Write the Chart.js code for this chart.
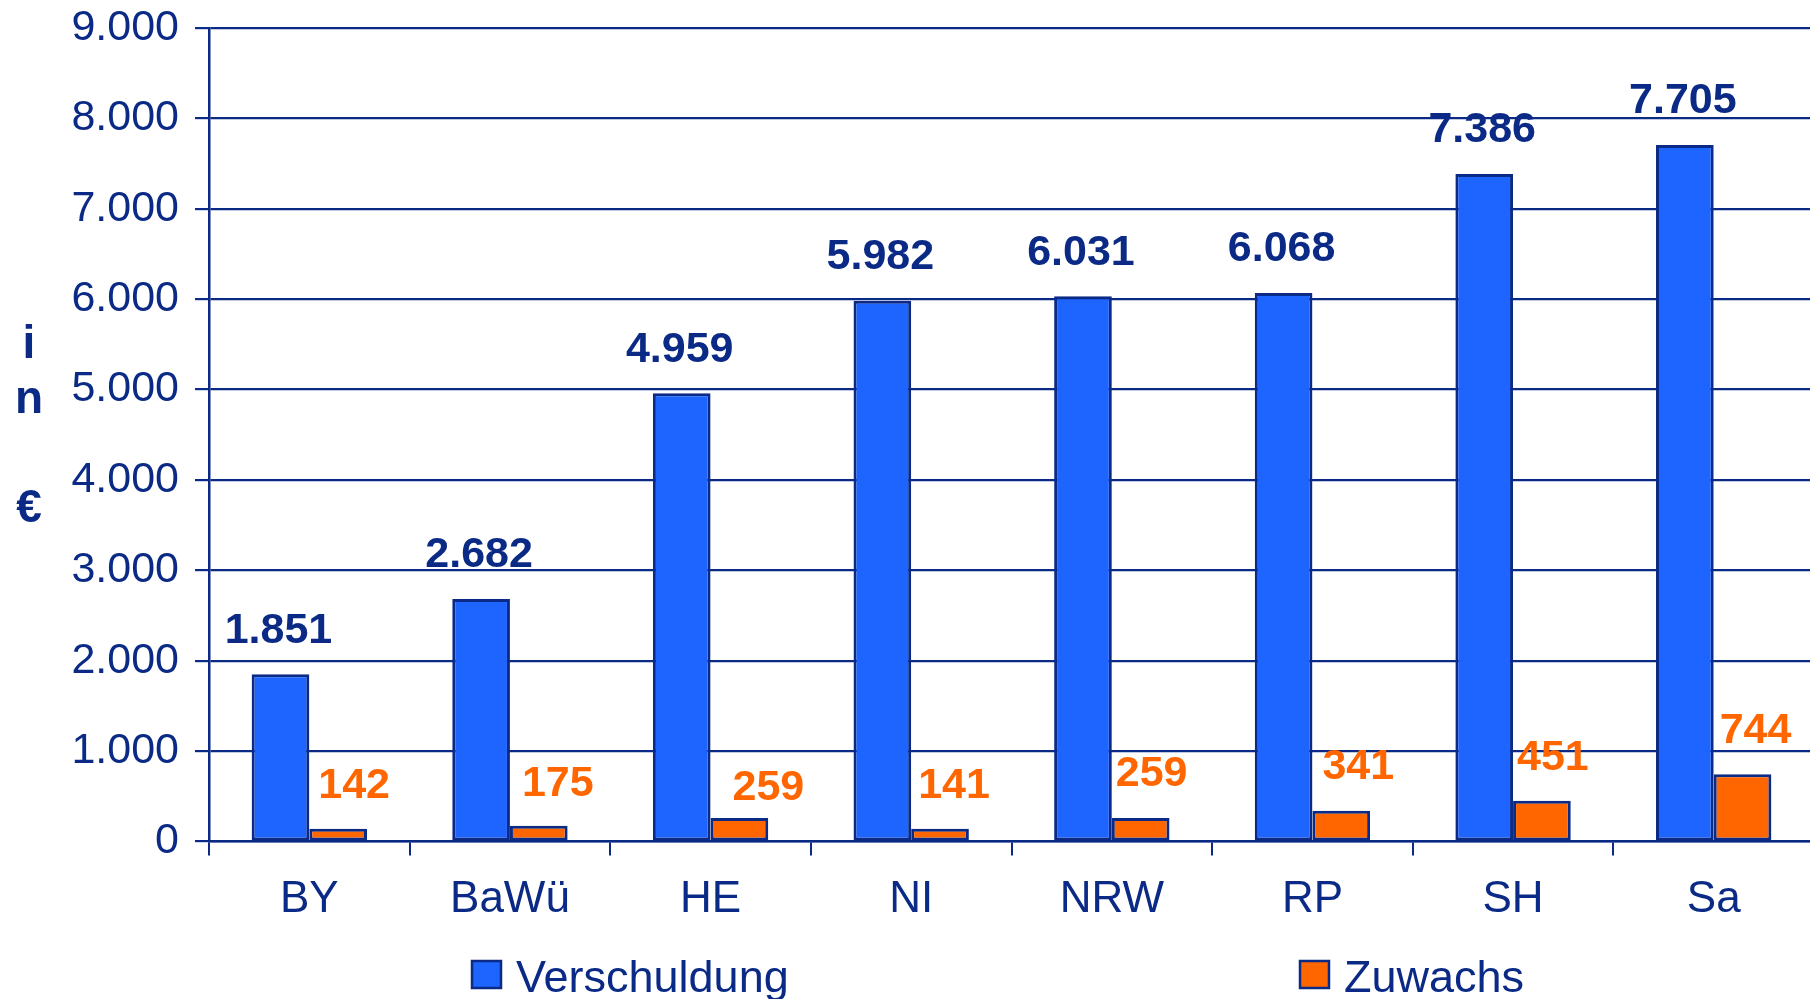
<!DOCTYPE html>
<html>
<head>
<meta charset="utf-8">
<script src="https://cdn.jsdelivr.net/npm/chart.js@4.4.1/dist/chart.umd.min.js"></script>
<style>
  html, body { margin: 0; padding: 0; background: #ffffff; overflow: hidden; }
  #wrap { width: 1810px; height: 999px; position: relative; overflow: hidden; }
  canvas { display: block; }
</style>
</head>
<body>
<div id="wrap"><canvas id="c" width="1814" height="999"></canvas></div>
<script>
// ---- data ----
const categories = ['BY', 'BaWü', 'HE', 'NI', 'NRW', 'RP', 'SH', 'Sa'];
const verschuldung = [1851, 2682, 4959, 5982, 6031, 6068, 7386, 7705];
const zuwachs = [142, 175, 259, 141, 259, 341, 451, 744];
const yTickLabels = ['0', '1.000', '2.000', '3.000', '4.000', '5.000', '6.000', '7.000', '8.000', '9.000'];
const seriesNames = ['Verschuldung', 'Zuwachs'];
const yTitleLines = ['i', 'n', '', '€'];

// ---- styles ----
const NAVY = '#0a2a86';
const BLUE = '#1e64ff';
const ORANGE = '#ff6600';
const FONT = '"Liberation Sans", Arial, Helvetica, sans-serif';

// label nudges (relative to each bar's top centre), as placed in the original
const zuwachsNudgeX = [16, 19, 29, 14, 11, 17, 11, 13];
const zuwachsNudgeY = [46, 45, 33, 46, 47, 47, 46, 47];

function fmt(v) {
  return String(v).replace(/\B(?=(\d{3})+(?!\d))/g, '.');
}

const LABEL_SIZE = 43;

const valueLabels = {
  id: 'valueLabels',
  afterDatasetsDraw(chart) {
    const ctx = chart.ctx;
    ctx.save();
    ctx.font = 'bold ' + LABEL_SIZE + 'px ' + FONT;
    ctx.textAlign = 'center';
    ctx.textBaseline = 'alphabetic';
    const capMid = 0.358 * LABEL_SIZE;
    chart.getDatasetMeta(0).data.forEach((bar, i) => {
      ctx.fillStyle = NAVY;
      ctx.fillText(fmt(verschuldung[i]), bar.x - 2, bar.y - 47 + capMid);
    });
    chart.getDatasetMeta(1).data.forEach((bar, i) => {
      ctx.fillStyle = ORANGE;
      ctx.fillText(fmt(zuwachs[i]), bar.x + zuwachsNudgeX[i], bar.y - zuwachsNudgeY[i] + capMid);
    });
    ctx.restore();
  }
};

const yTitle = {
  id: 'yTitle',
  afterDraw(chart) {
    const ctx = chart.ctx;
    ctx.save();
    ctx.font = 'bold 46px ' + FONT;
    ctx.fillStyle = NAVY;
    ctx.textAlign = 'center';
    ctx.textBaseline = 'alphabetic';
    yTitleLines.forEach((t, k) => {
      if (t) ctx.fillText(t, 29, 358 + 54.5 * k);
    });
    ctx.restore();
  }
};

const customLegend = {
  id: 'customLegend',
  afterDraw(chart) {
    const ctx = chart.ctx;
    const items = [
      { x: 472, color: chart.data.datasets[0].backgroundColor, text: chart.data.datasets[0].label },
      { x: 1300, color: chart.data.datasets[1].backgroundColor, text: chart.data.datasets[1].label }
    ];
    ctx.save();
    ctx.font = '45px ' + FONT;
    ctx.textAlign = 'left';
    ctx.textBaseline = 'alphabetic';
    items.forEach(it => {
      ctx.fillStyle = it.color;
      ctx.fillRect(it.x, 961, 29, 27);
      ctx.lineWidth = 2.5;
      ctx.strokeStyle = NAVY;
      ctx.strokeRect(it.x, 961, 29, 27);
      ctx.fillStyle = NAVY;
      ctx.fillText(it.text, it.x + 44, 992);
    });
    ctx.restore();
  }
};

new Chart(document.getElementById('c'), {
  type: 'bar',
  data: {
    labels: categories,
    datasets: [
      {
        label: seriesNames[0],
        data: verschuldung,
        backgroundColor: BLUE,
        borderColor: NAVY,
        borderWidth: 3,
        borderSkipped: false,
        categoryPercentage: 0.575,
        barPercentage: 1.0
      },
      {
        label: seriesNames[1],
        data: zuwachs,
        backgroundColor: ORANGE,
        borderColor: NAVY,
        borderWidth: 3,
        borderSkipped: false,
        categoryPercentage: 0.575,
        barPercentage: 1.0
      }
    ]
  },
  options: {
    responsive: false,
    animation: false,
    devicePixelRatio: 1,
    layout: { padding: { top: 28, left: 0, right: 0, bottom: 0 } },
    plugins: {
      legend: { display: false },
      tooltip: { enabled: false },
      title: { display: false }
    },
    scales: {
      x: {
        offset: true,
        grid: {
          display: true,
          drawOnChartArea: false,
          drawTicks: true,
          tickLength: 14,
          color: NAVY,
          lineWidth: 2
        },
        border: { display: true, color: NAVY, width: 2.5 },
        ticks: {
          color: NAVY,
          font: { family: FONT, size: 44 },
          padding: 18,
          maxRotation: 0,
          autoSkip: false
        },
        afterFit(scale) { scale.height = 157.5; scale.paddingLeft = 0; scale.paddingRight = 0; }
      },
      y: {
        min: 0,
        max: 9000,
        grid: {
          color: NAVY,
          lineWidth: 2.2,
          drawTicks: true,
          tickLength: 14
        },
        border: { display: true, color: NAVY, width: 2.5 },
        ticks: {
          stepSize: 1000,
          color: NAVY,
          font: { family: FONT, size: 43 },
          padding: 16,
          callback: (v, i) => yTickLabels[i]
        },
        afterFit(scale) { scale.width = 209; scale.paddingTop = 0; scale.paddingBottom = 0; }
      }
    }
  },
  plugins: [valueLabels, yTitle, customLegend]
});
</script>
</body>
</html>
